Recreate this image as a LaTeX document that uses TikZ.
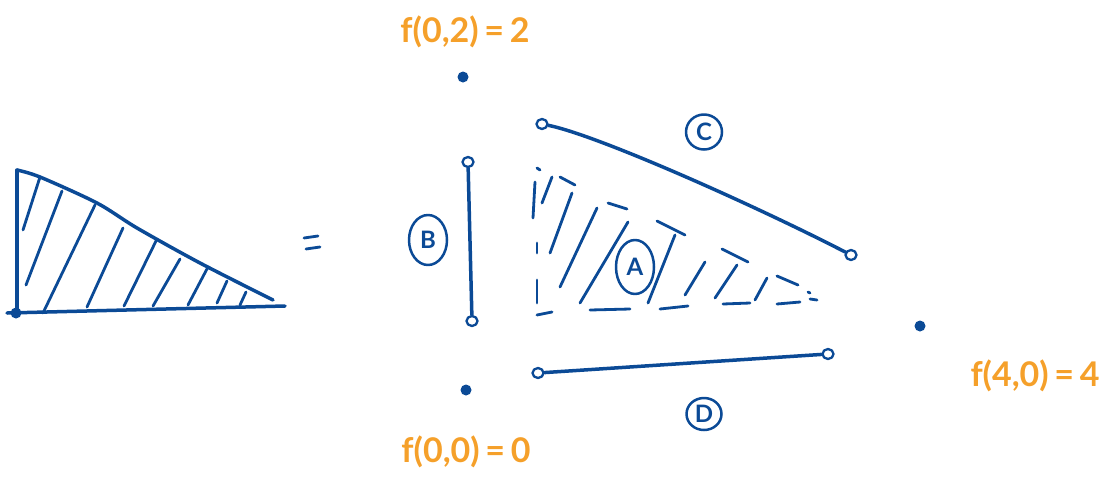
\documentclass[tikz,border=0pt]{standalone}
\usepackage{fontspec}
\setsansfont{Lato}
\usetikzlibrary{shapes.geometric}
\definecolor{ink}{HTML}{0B4A96}
\definecolor{marker}{HTML}{F5A02A}
\begin{document}
\begin{tikzpicture}[x=1pt,y=-1pt, line cap=round, line join=round,
  pen/.style={draw=ink, line width=3.5pt},
  hatch/.style={draw=ink, line width=2.8pt},
  endpt/.style={ellipse, draw=ink, line width=2.3pt, fill=white, minimum width=11pt, minimum height=10pt, inner sep=0pt},
  dotpt/.style={circle, fill=ink, minimum size=11pt, inner sep=0pt},
  tag/.style={ellipse, draw=ink, line width=2.5pt, text=ink, font=\sffamily\bfseries\fontsize{24}{24}\selectfont, inner sep=0pt},
  val/.style={text=marker, font=\sffamily\bfseries\fontsize{34}{34}\selectfont}]
\useasboundingbox (0,0) rectangle (1110,483);

% left triangle
\draw[pen] (17,313) -- (17,170);
\draw[pen] plot[smooth] coordinates {(17,170) (40,177) (97,203) (137,228) (200,263) (273,300)};
\draw[pen] (7,313) -- (285,306);
\node[dotpt] (o) at (16,313) {};
\foreach \a/\b/\c/\d in {23/230/40/177, 26/285/62/191, 43/313/95/205, 87/307/123/228,
  124/306/157/239, 153/306/180/259, 188/305/208/267, 217/303/227/281, 240/305/246/292}
  \draw[hatch] (\a,\b) -- (\c,\d);

% equals sign
\draw[hatch] (304,238) -- (318,236);
\draw[hatch] (306,249) -- (320,247);

% corner points
\node[dotpt] (p02) at (463,77) {};
\node[dotpt] (p00) at (466,390) {};
\node[dotpt] (p40) at (920,326) {};
\node[val] (l02) at (465,32) {f(0,2)\,=\,2};
\node[val] (l00) at (466,452) {f(0,0)\,=\,0};
\node[val] (l40) at (1035,376) {f(4,0)\,=\,4};

% B
\node[endpt] (b1) at (468,162) {};
\node[endpt] (b2) at (472,321) {};
\draw[pen] (b1) -- (b2);
\node[tag, minimum width=38pt, minimum height=50pt] (tb) at (428,240) {B};

% C
\node[endpt] (c1) at (542,124) {};
\node[endpt] (c2) at (851,255) {};
\draw[pen] (c1) .. controls (600,136) and (760,208) .. (c2);
\node[tag, minimum width=36pt, minimum height=35pt] (tc) at (704,132) {C};

% D
\node[endpt] (d1) at (538,373) {};
\node[endpt] (d2) at (828,354) {};
\draw[pen] (d1) -- (d2);
\node[tag, minimum width=35pt, minimum height=32pt] (td) at (704,414) {D};

% A region (dashed outline and hatches)
\foreach \a/\b/\c/\d in {537/168/540/170, 535/182/533/218, 537/243/537/253, 537/280/537/303,
  537/315/552/312, 590/310/630/309, 660/309/688/306, 723/304/750/303, 777/304/800/302,
  810/299/817/300, 560/177/575/185, 608/203/627/209, 657/221/685/235, 722/249/748/262,
  777/276/798/285, 808/292/810/293,
  542/203/552/177, 550/253/572/193, 560/287/597/208, 580/303/628/222, 648/303/675/235,
  685/295/705/262, 715/298/737/265, 755/300/767/278}
  \draw[hatch] (\a,\b) -- (\c,\d);
\node[tag, fill=white, minimum width=38pt, minimum height=54pt] (ta) at (635,267) {A};
\end{tikzpicture}
\end{document}
